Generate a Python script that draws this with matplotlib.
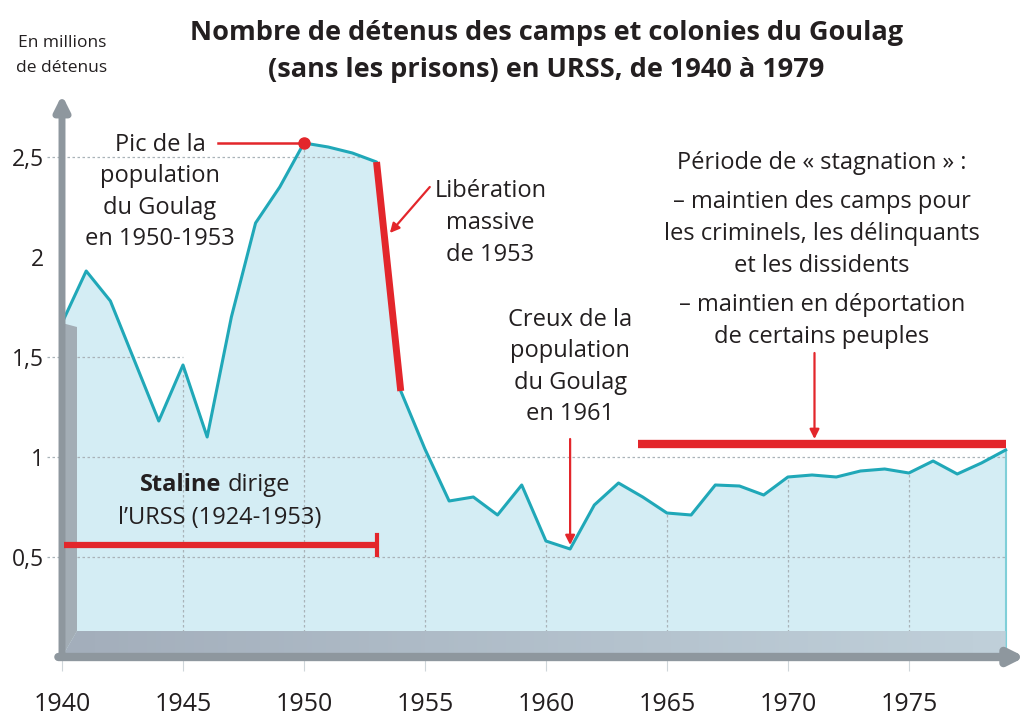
import numpy as np
import matplotlib.pyplot as plt
from matplotlib.patches import Polygon
from matplotlib.colors import LinearSegmentedColormap

# Données : millions de détenus (camps et colonies du Goulag)
annees = list(range(1940, 1980))
detenus = [1.67, 1.93, 1.78, 1.48, 1.18, 1.46, 1.10, 1.70, 2.17, 2.35,
           2.57, 2.55, 2.52, 2.475, 1.33, 1.04, 0.78, 0.80, 0.71, 0.86,
           0.58, 0.54, 0.76, 0.87, 0.80, 0.72, 0.71, 0.86, 0.855, 0.81,
           0.90, 0.91, 0.90, 0.93, 0.94, 0.92, 0.98, 0.915, 0.97, 1.035]
xticks = [1940, 1945, 1950, 1955, 1960, 1965, 1970, 1975]
yticks = [0.5, 1, 1.5, 2, 2.5]
ylabels = ['0,5', '1', '1,5', '2', '2,5']

plt.rcParams['font.family'] = ['Open Sans', 'DejaVu Sans']

C_LIGNE = '#20a8b8'
C_FOND = '#d4edf4'
C_ROUGE = '#e3262b'
C_GRIS = '#8e979e'
C_TEXTE = '#231f20'
FS = 17

x = np.array(annees)
y = np.array(detenus)

fig = plt.figure(figsize=(10.33, 7.18), dpi=100)
ax = fig.add_axes([62 / 1033, 61 / 718, 963 / 1033, 562 / 718])
ax.set_xlim(1940, 1979.8)
ax.set_ylim(0, 2.81)
for s in ax.spines.values():
    s.set_visible(False)

# zone remplie sous la courbe
ax.fill_between(x, 0, y, color=C_FOND, zorder=1)
ax.plot([x[-1], x[-1]], [0, y[-1]], color='#7fcfd8', lw=1.5, zorder=2)

# grille pointillée
grille = dict(color='#a9b3b8', lw=0.9, ls=(0, (2, 2)), zorder=2, clip_on=False)
for xv in xticks[1:]:
    ax.plot([xv, xv], [0, np.interp(xv, x, y)], **grille)
ax.plot([1939.4, 1979], [0.5, 0.5], **grille)
ax.plot([1939.4, 1979], [1, 1], **grille)
ax.plot([1939.4, 1945], [1.5, 1.5], **grille)
ax.plot([1939.4, 1952.6], [2.5, 2.5], **grille)

# sol et mur en perspective
sol = Polygon([[1940, 0], [1940.62, 0.13], [1979, 0.13], [1979, 0]], closed=True,
              facecolor='none', edgecolor='none')
ax.add_patch(sol)
grad = np.linspace(0, 1, 200).reshape(1, -1)
cmap_sol = LinearSegmentedColormap.from_list('sol', ['#a3aebb', '#c0d0da'])
im = ax.imshow(grad, extent=[1940, 1979, 0, 0.13], aspect='auto', cmap=cmap_sol, zorder=2)
im.set_clip_path(sol)
mur = Polygon([[1940, 0], [1940.62, 0.13], [1940.62, y[0] - 0.02], [1940, y[0]]], closed=True,
              facecolor='#a3adb5', edgecolor='none', zorder=2)
ax.add_patch(mur)

# courbe
ax.plot(x, y, color=C_LIGNE, lw=2.2, zorder=4)
ax.plot(x[13:15], y[13:15], color=C_ROUGE, lw=5, zorder=5, solid_capstyle='butt')

# axes fléchés
ax.annotate('', xy=(1979.8, 0), xytext=(1939.85, 0),
            arrowprops=dict(arrowstyle='-|>', lw=6, color=C_GRIS, mutation_scale=22, shrinkA=0, shrinkB=0),
            annotation_clip=False, zorder=6)
ax.annotate('', xy=(1940, 2.81), xytext=(1940, 0),
            arrowprops=dict(arrowstyle='-|>', lw=5, color=C_GRIS, mutation_scale=22, shrinkA=0, shrinkB=0),
            annotation_clip=False, zorder=6)

ax.set_xticks(xticks)
ax.set_xticklabels([str(a) for a in xticks], fontsize=18, color=C_TEXTE)
ax.set_yticks(yticks)
ax.set_yticklabels(ylabels, fontsize=16.5, color=C_TEXTE)
ax.tick_params(axis='x', length=10, width=0.8, color='#cfd6da', pad=15)
ax.tick_params(axis='y', length=0, pad=13)

# pic 1950
ax.plot([1946.45, 1950], [2.57, 2.57], color=C_ROUGE, lw=1.8, zorder=5, clip_on=False)
ax.plot([1950], [2.57], 'o', color=C_ROUGE, ms=8, zorder=6)
ax.text(1944.05, 2.325, 'Pic de la\npopulation\ndu Goulag\nen 1950-1953', ha='center', va='center',
        fontsize=FS, color=C_TEXTE, linespacing=1.42, zorder=7)

# libération 1953
ax.annotate('', xy=(1953.55, 2.12), xytext=(1955.2, 2.35),
            arrowprops=dict(arrowstyle='-|>', lw=1.6, color=C_ROUGE, mutation_scale=14, shrinkA=0, shrinkB=0), zorder=7)
ax.text(1957.7, 2.17, 'Libération\nmassive\nde 1953', ha='center', va='center',
        fontsize=FS, color=C_TEXTE, linespacing=1.42)

# creux 1961
ax.annotate('', xy=(1961, 0.56), xytext=(1961, 1.09),
            arrowprops=dict(arrowstyle='-|>', lw=1.6, color=C_ROUGE, mutation_scale=14, shrinkA=0, shrinkB=0), zorder=7)
ax.text(1961, 1.45, 'Creux de la\npopulation\ndu Goulag\nen 1961', ha='center', va='center',
        fontsize=FS, color=C_TEXTE, linespacing=1.42)

# Staline
ax.plot([1940.1, 1953], [0.56, 0.56], color=C_ROUGE, lw=4.5, zorder=7, solid_capstyle='butt')
ax.plot([1953, 1953], [0.51, 0.61], color=C_ROUGE, lw=3, zorder=7)
ax.text(1946.6, 0.86, 'Staline', ha='right', va='center', fontsize=FS, fontweight='bold', color=C_TEXTE)
ax.text(1946.85, 0.86, 'dirige', ha='left', va='center', fontsize=FS, color=C_TEXTE)
ax.text(1946.5, 0.695, 'l\u2019URSS (1924-1953)', ha='center', va='center', fontsize=FS, color=C_TEXTE)

# stagnation
ax.plot([1963.8, 1979], [1.065, 1.065], color=C_ROUGE, lw=6, zorder=5, solid_capstyle='butt')
ax.annotate('', xy=(1971.1, 1.09), xytext=(1971.1, 1.52),
            arrowprops=dict(arrowstyle='-|>', lw=1.6, color=C_ROUGE, mutation_scale=14, shrinkA=0, shrinkB=0), zorder=7)
ax.text(1971.4, 2.47, 'Période de « stagnation » :', ha='center', va='center', fontsize=FS, color=C_TEXTE)
ax.text(1971.4, 2.115, '\u2013 maintien des camps pour\nles criminels, les délinquants\net les dissidents',
        ha='center', va='center', fontsize=FS, color=C_TEXTE, linespacing=1.42)
ax.text(1971.4, 1.68, '\u2013 maintien en déportation\nde certains peuples',
        ha='center', va='center', fontsize=FS, color=C_TEXTE, linespacing=1.42)

# titres
fig.text(0.529, 0.928, 'Nombre de détenus des camps et colonies du Goulag\n(sans les prisons) en URSS, de 1940 à 1979',
         ha='center', va='center', fontsize=19.5, fontweight='bold', color=C_TEXTE, linespacing=1.55)
fig.text(62 / 1033, 0.923, 'En millions\nde détenus', ha='center', va='center', fontsize=12.5,
         color=C_TEXTE, linespacing=1.75)

fig.savefig('out.png', dpi=100)
